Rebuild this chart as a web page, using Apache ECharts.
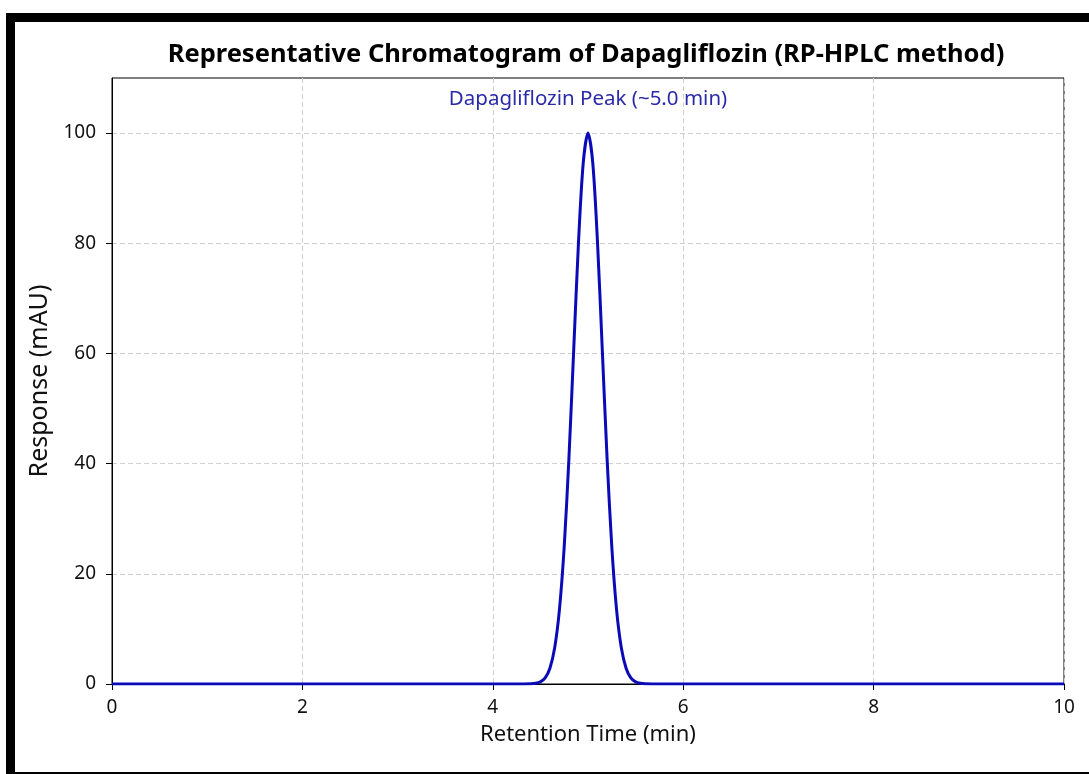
<!DOCTYPE html>
<html>
<head>
<meta charset="utf-8">
<script src="https://cdn.jsdelivr.net/npm/echarts@6/dist/echarts.min.js"></script>
<style>
html,body{margin:0;padding:0;background:#fff;overflow:hidden;}
#chart{position:absolute;left:0;top:0;width:1089px;height:774px;}
#frame{position:absolute;left:6px;top:13px;width:1200px;height:761px;box-sizing:border-box;border-left:9px solid #000;border-top:9px solid #000;border-bottom:2px solid #000;pointer-events:none;}
</style>
</head>
<body>
<div id="chart"></div>
<div id="frame"></div>
<script>
// Retention time (min) and response (mAU)
const times = [0, 1, 2, 3, 4, 4.2, 4.4, 4.45, 4.5, 4.55, 4.6, 4.65, 4.7, 4.75, 4.8, 4.85, 4.9, 4.95, 5.0,
  5.05, 5.1, 5.15, 5.2, 5.25, 5.3, 5.35, 5.4, 5.45, 5.5, 5.55, 5.6, 5.8, 6, 7, 8, 9, 10];
const response = [0, 0, 0, 0, 0, 0, 0.03, 0.12, 0.39, 1.11, 2.86, 6.57, 13.5, 24.9, 41.1, 60.7, 80.1, 94.6, 100,
  94.6, 80.1, 60.7, 41.1, 24.9, 13.5, 6.57, 2.86, 1.11, 0.39, 0.12, 0.03, 0, 0, 0, 0, 0, 0];
const xTicks = [0, 2, 4, 6, 8, 10];
const yTicks = [0, 20, 40, 60, 80, 100];
const titleText = 'Representative Chromatogram of Dapagliflozin (RP-HPLC method)';
const peakLabel = 'Dapagliflozin Peak (~5.0 min)';
const peakLabelPos = [5.0, 106.2];

const font = '"Noto Sans", "Open Sans", sans-serif';
const chart = echarts.init(document.getElementById('chart'));
const gridLine = {show: true, lineStyle: {color: '#cfcfcf', type: [5, 3], width: 1}};
chart.setOption({
  animation: false,
  backgroundColor: '#fff',
  title: {
    text: titleText, left: 581, top: 37, textAlign: 'center',
    textStyle: {fontFamily: font, fontWeight: 'bold', fontSize: 25.5, color: '#000'}
  },
  grid: {left: 112, right: 25, top: 78, bottom: 90, show: true, borderColor: '#000', borderWidth: 1, backgroundColor: 'transparent'},
  xAxis: {
    type: 'value', min: 0, max: 10, interval: 2,
    name: 'Retention Time (min)', nameLocation: 'middle', nameGap: 40,
    nameTextStyle: {fontFamily: font, fontSize: 22, color: '#111'},
    axisLine: {show: true, onZero: false, lineStyle: {color: '#000', width: 1}},
    axisTick: {show: true, length: 6, lineStyle: {color: '#000'}, customValues: xTicks},
    axisLabel: {fontFamily: font, fontSize: 19, color: '#111', margin: 14, customValues: xTicks},
    splitLine: gridLine
  },
  yAxis: {
    type: 'value', min: 0, max: 110, interval: 20,
    name: 'Response (mAU)', nameLocation: 'middle', nameGap: 60, nameRotate: 90,
    nameTextStyle: {fontFamily: font, fontSize: 25, color: '#111'},
    axisLine: {show: true, onZero: false, lineStyle: {color: '#000', width: 1}},
    axisTick: {show: true, length: 6, lineStyle: {color: '#000'}, customValues: yTicks},
    axisLabel: {fontFamily: font, fontSize: 19, color: '#111', margin: 16, customValues: yTicks},
    splitLine: gridLine
  },
  series: [{
    type: 'line',
    data: times.map((t, i) => [t, response[i]]),
    showSymbol: false,
    smooth: 0.3,
    lineStyle: {color: '#0a0ab8', width: 3},
    itemStyle: {color: '#0a0ab8'},
    markPoint: {
      symbol: 'circle', symbolSize: 0,
      data: [{coord: peakLabelPos}],
      label: {show: true, position: 'inside', formatter: peakLabel, fontFamily: font, fontSize: 20.5, color: '#2a2aa8'}
    }
  }]
});
</script>
</body>
</html>
